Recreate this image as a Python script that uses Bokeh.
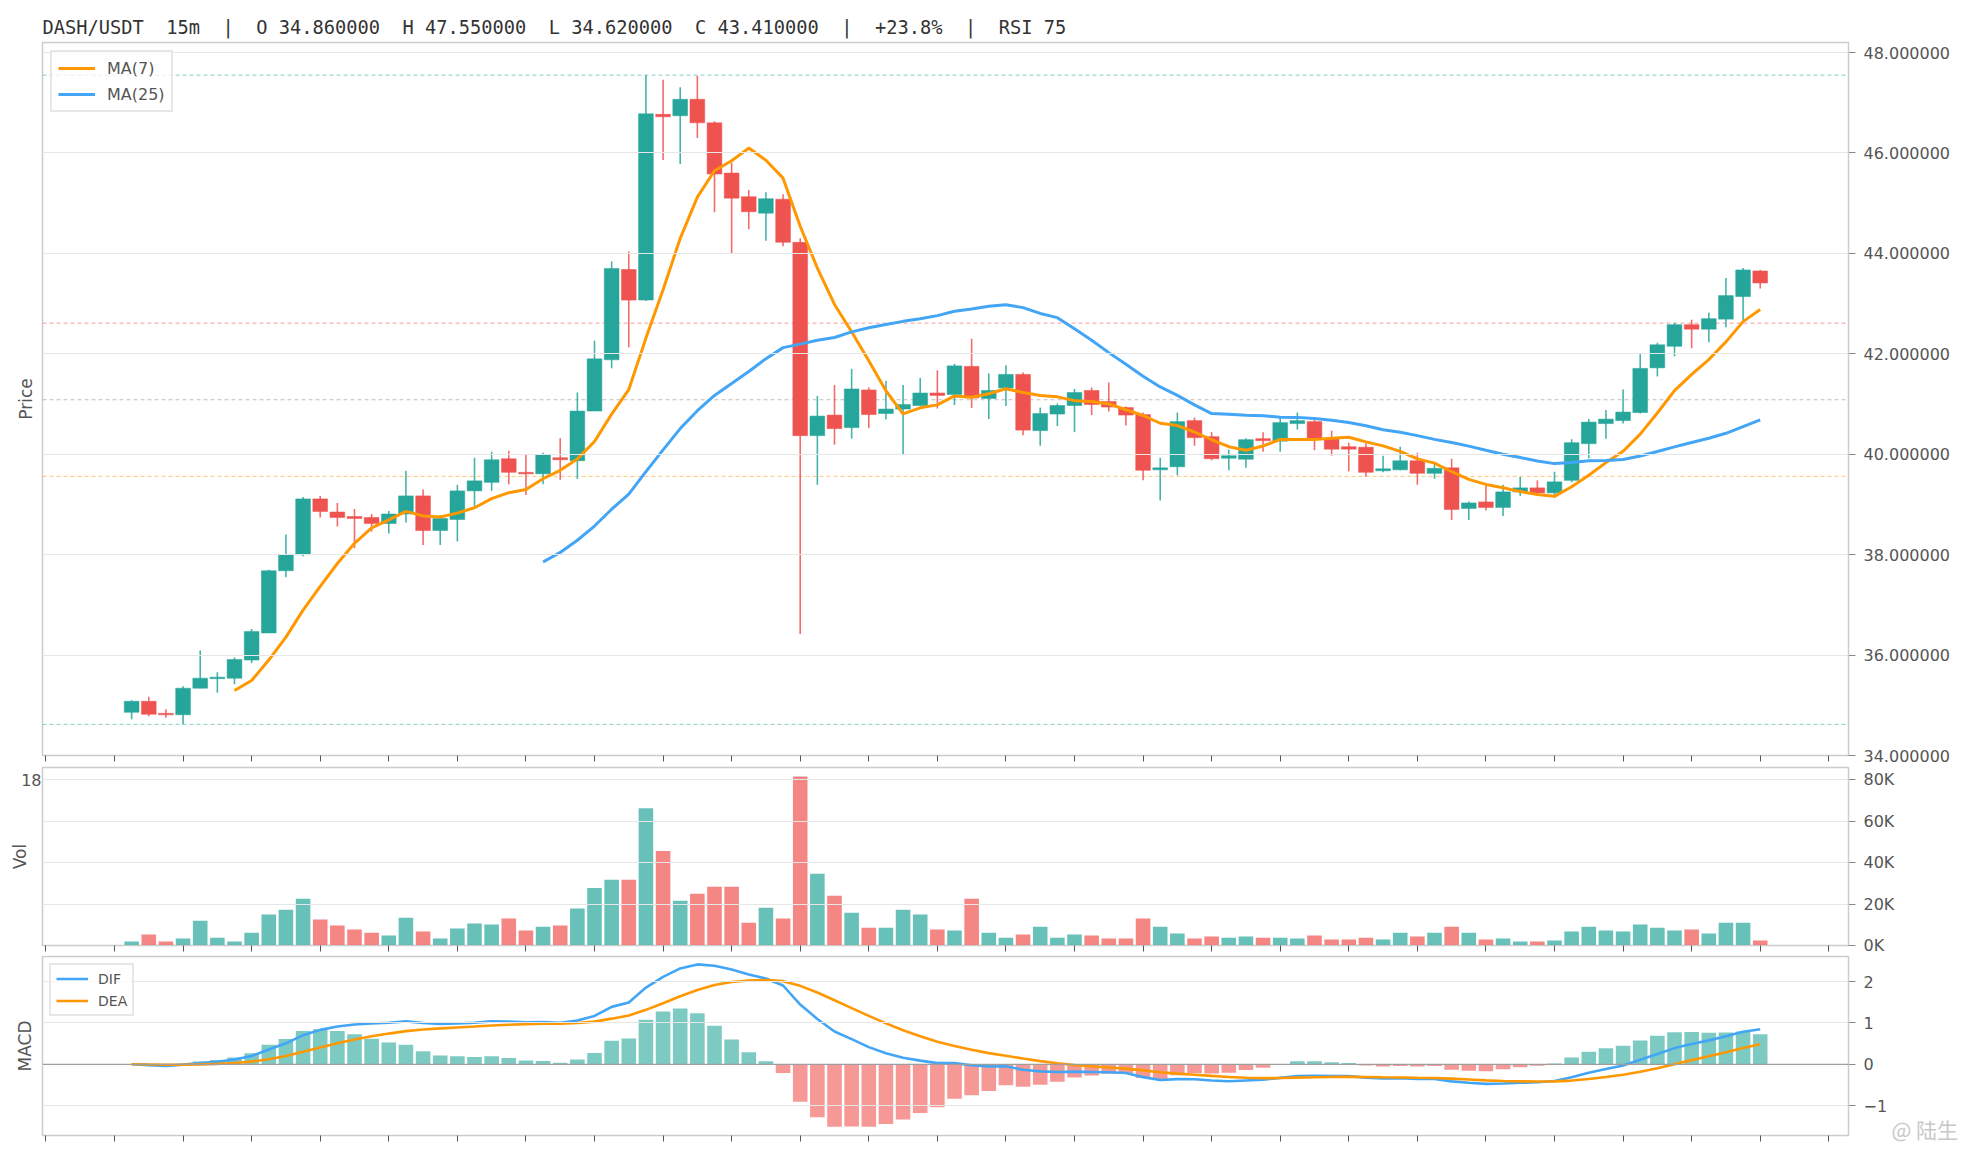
import pandas as pd
from bokeh.plotting import figure
from bokeh.layouts import column
from bokeh.models import (Range1d, LinearAxis, FixedTicker, Span, Legend, LegendItem,
                          ColumnDataSource)
from bokeh.embed import file_html
from bokeh.resources import INLINE

# ---------------- data ----------------
opens = [34.86, 35.08, 34.84, 34.81, 35.34, 35.53, 35.54, 35.90, 36.44, 37.68, 38.00, 39.11, 38.85, 38.76, 38.74,
         38.62, 38.81, 39.17, 38.48, 38.70, 39.27, 39.44, 39.91, 39.64, 39.61,
         39.93, 39.87, 40.86, 41.88, 43.68, 43.07, 46.77, 46.74, 47.07, 46.60, 45.60, 45.13, 44.80, 45.08, 44.22,
         40.37, 40.78, 40.53, 41.28, 40.81, 40.90, 40.97, 41.22, 41.19,
         41.75, 41.11, 41.32, 41.59, 40.47, 40.80, 40.97, 41.27, 41.05, 40.93, 40.79, 39.69, 39.75, 40.67, 40.35,
         39.92, 39.90, 40.31, 40.26, 40.61, 40.65, 40.31, 40.15, 40.14,
         39.67, 39.69, 39.87, 39.62, 39.73, 38.92, 39.05, 38.94, 39.25, 39.33, 39.23, 39.48, 40.21, 40.61, 40.67,
         40.83, 41.72, 42.15, 42.58, 42.49, 42.69, 43.14, 43.65]
highs = [35.10, 35.17, 34.92, 35.38, 36.09, 35.66, 35.95, 36.52, 37.70, 38.40, 39.15, 39.17, 39.03, 38.91, 38.81,
         38.87, 39.67, 39.30, 38.78, 39.39, 39.93, 40.05, 40.07, 39.99, 40.03,
         40.32, 41.23, 42.26, 43.84, 44.04, 47.55, 47.46, 47.31, 47.54, 46.63, 45.81, 45.26, 45.22, 45.18, 44.30,
         41.16, 41.38, 41.70, 41.33, 41.46, 41.38, 41.52, 41.67, 41.80,
         42.30, 41.61, 41.77, 41.63, 40.93, 41.01, 41.30, 41.33, 41.43, 40.95, 40.83, 39.93, 40.83, 40.73, 40.44,
         40.09, 40.32, 40.44, 40.75, 40.83, 40.69, 40.47, 40.23, 40.22,
         39.97, 40.15, 40.03, 39.82, 39.91, 39.06, 39.38, 39.39, 39.55, 39.48, 39.65, 40.30, 40.70, 40.88, 41.29,
         42.00, 42.22, 42.62, 42.68, 42.82, 43.51, 43.71, 43.67]
lows = [34.72, 34.78, 34.75, 34.62, 35.34, 35.25, 35.42, 35.84, 36.44, 37.55, 37.97, 38.74, 38.56, 38.13, 38.46,
        38.42, 38.64, 38.19, 38.19, 38.26, 38.97, 39.27, 39.40, 39.19, 39.40,
        39.49, 39.51, 40.86, 41.71, 42.13, 43.05, 45.86, 45.78, 46.30, 44.82, 44.00, 44.48, 44.25, 44.14, 36.42,
        39.39, 40.19, 40.31, 40.52, 40.69, 39.99, 40.97, 40.91, 40.98,
        40.92, 40.70, 40.96, 40.38, 40.17, 40.56, 40.44, 40.78, 40.85, 40.57, 39.48, 39.08, 39.58, 40.17, 39.88,
        39.68, 39.73, 40.05, 40.05, 40.49, 40.08, 39.97, 39.66, 39.55,
        39.64, 39.68, 39.39, 39.51, 38.69, 38.69, 38.88, 38.77, 39.17, 39.17, 39.13, 39.44, 39.92, 40.31, 40.61,
        40.81, 41.55, 41.95, 42.11, 42.23, 42.53, 42.66, 43.30]
closes = [35.08, 34.82, 34.81, 35.34, 35.54, 35.56, 35.91, 36.47, 37.68, 38.00, 39.11, 38.86, 38.74, 38.72, 38.62,
          38.81, 39.17, 38.48, 38.72, 39.27, 39.47, 39.89, 39.64, 39.61, 39.99,
          39.89, 40.86, 41.90, 43.70, 43.07, 46.78, 46.72, 47.07, 46.60, 45.58, 45.10, 44.83, 45.09, 44.22, 40.37,
          40.76, 40.51, 41.30, 40.79, 40.90, 40.99, 41.22, 41.17, 41.76,
          41.12, 41.27, 41.59, 40.48, 40.81, 40.97, 41.23, 40.99, 40.94, 40.78, 39.68, 39.73, 40.65, 40.33, 39.91,
          39.97, 40.29, 40.27, 40.63, 40.67, 40.31, 40.10, 40.10, 39.64,
          39.71, 39.87, 39.62, 39.72, 38.90, 39.03, 38.94, 39.25, 39.33, 39.23, 39.45, 40.23, 40.64, 40.70, 40.84,
          41.71, 42.18, 42.58, 42.49, 42.70, 43.16, 43.67, 43.41]
volumes = [1900, 5300, 1900, 3400, 12000, 3800, 1900, 6200, 14900, 17300, 22600, 12500, 9600, 7700, 6200,
           4800, 13400, 6700, 3400, 8200, 10600, 10100, 13000, 7200, 9100,
           9600, 17800, 27800, 31700, 31700, 66200, 45600, 21600, 25000, 28300, 28300, 11000, 18200, 13000, 81600,
           34600, 24000, 15800, 8600, 8600, 17300, 14900, 7700, 7200,
           22600, 6200, 3800, 5300, 9100, 3800, 5300, 4800, 3400, 3400, 13000, 9100, 5800, 3400, 4300,
           3800, 4300, 3800, 3800, 3400, 4800, 2900, 2900, 3800,
           2900, 6200, 4300, 6200, 9100, 6200, 2900, 3400, 1900, 1900, 2400, 6700, 9100, 7200, 6700,
           10100, 8600, 7200, 7700, 5800, 11000, 11000, 2400]

title_text = "DASH/USDT  15m  |  O 34.860000  H 47.550000  L 34.620000  C 43.410000  |  +23.8%  |  RSI 75"
price_ticks = [34, 36, 38, 40, 42, 44, 46, 48]
vol_ticks = [0, 20000, 40000, 60000, 80000]
vol_labels = ["0K", "20K", "40K", "60K", "80K"]
macd_ticks = [-1, 0, 1, 2]
macd_labels = ["\u22121", "0", "1", "2"]
fib_ratios = [0.0, 0.382, 0.5, 0.618, 1.0]
fib_colors = ["#26a69a", "#ef5350", "#888888", "#ff9800", "#26a69a"]
watermark = "@ 陆生"

# ---------------- derived indicators ----------------
n = len(closes)
idx = list(range(n))
c = pd.Series(closes)
ma7 = c.rolling(7).mean()
ma25 = c.rolling(25).mean()
ema12 = c.ewm(span=12, adjust=False).mean()
ema26 = c.ewm(span=26, adjust=False).mean()
dif = ema12 - ema26
dea = dif.ewm(span=9, adjust=False).mean()
hist = 2 * (dif - dea)

UP, DN = "#26a69a", "#ef5350"
col = [UP if cl >= op else DN for op, cl in zip(opens, closes)]
src = ColumnDataSource(dict(x=idx, o=opens, h=highs, l=lows, c=closes, v=volumes, col=col,
                            top=[max(a, b) for a, b in zip(opens, closes)],
                            bot=[min(a, b) for a, b in zip(opens, closes)]))

GRID = "#e6e6e6"
FRAME = "#cccccc"
TXT = "#555555"
FONT = "DejaVu Sans"
LEFT = 42
RIGHT = 110
FW = 1806

xr = Range1d(-5.2, 100.15)
x_ticks = list(range(-5, 101, 4))


def base_fig(frame_h, yr, top, bottom):
    p = figure(frame_width=FW, frame_height=frame_h, x_range=xr, y_range=yr,
               y_axis_location="right", output_backend="svg", toolbar_location=None,
               min_border_left=LEFT, min_border_right=RIGHT, min_border_top=top, min_border_bottom=bottom,
               background_fill_color="white", border_fill_color="white")
    p.outline_line_color = FRAME
    p.outline_line_width = 1.5
    p.xgrid.visible = False
    p.ygrid.grid_line_color = GRID
    p.ygrid.grid_line_width = 1
    p.ygrid.level = "overlay"
    xa = p.xaxis[0]
    xa.ticker = FixedTicker(ticks=x_ticks)
    xa.major_label_text_font_size = "0px"
    xa.major_label_text_color = None
    xa.major_label_standoff = 0
    xa.major_tick_in = 0
    xa.major_tick_out = 6
    xa.major_tick_line_color = "#555555"
    xa.minor_tick_line_color = None
    xa.axis_line_color = FRAME
    ya = p.yaxis[0]
    ya.major_tick_in = 0
    ya.major_tick_out = 7
    ya.major_tick_line_color = "#888888"
    ya.minor_tick_line_color = None
    ya.axis_line_color = FRAME
    ya.major_label_standoff = 8
    ya.major_label_text_font = FONT
    ya.major_label_text_font_size = "16px"
    ya.major_label_text_color = TXT
    return p


def left_label(p, text, standoff, ticks=None, overrides=None):
    ax = LinearAxis(ticker=FixedTicker(ticks=ticks or []), axis_label=text,
                    axis_label_text_font=FONT, axis_label_text_font_size="17px",
                    axis_label_text_font_style="normal", axis_label_text_color=TXT,
                    axis_label_standoff=standoff, major_tick_in=0, major_tick_out=0,
                    minor_tick_line_color=None, axis_line_color=None,
                    major_label_standoff=1, major_label_text_font=FONT,
                    major_label_text_font_size="16px", major_label_text_color=TXT)
    if overrides:
        ax.major_label_overrides = overrides
    p.add_layout(ax, "left")


# ---------------- price panel ----------------
p1 = base_fig(713, Range1d(34, 48.2), 42, 11)
p1.title.text = title_text.replace("  ", "\u00a0\u00a0")
p1.title.text_font = "DejaVu Sans Mono"
p1.title.text_font_size = "18.7px"
p1.title.text_font_style = "normal"
p1.title.text_color = "#333333"
p1.title.align = "left"
p1.title.standoff = 9
p1.yaxis[0].ticker = FixedTicker(ticks=price_ticks)
p1.yaxis[0].major_label_overrides = {t: "%.6f" % t for t in price_ticks}
p1.ygrid.ticker = FixedTicker(ticks=price_ticks)
left_label(p1, "Price", 7)

hi, lo = max(highs), min(lows)
for r, fc in zip(fib_ratios, fib_colors):
    p1.add_layout(Span(location=hi - r * (hi - lo), dimension="width", line_color=fc,
                       line_alpha=0.55, line_width=1, line_dash="4 3", level="underlay"))

p1.segment(x0="x", y0="l", x1="x", y1="h", source=src, line_color="col", line_width=1.6, line_alpha=0.85)
p1.vbar(x="x", top="top", bottom="bot", width=0.86, source=src, fill_color="col", line_color="col",
        line_width=0.5)

ma7_x = [i for i in idx if pd.notna(ma7[i])]
ma25_x = [i for i in idx if pd.notna(ma25[i])]
r7 = p1.line(ma7_x, [ma7[i] for i in ma7_x], line_color="#ff9800", line_width=3)
r25 = p1.line(ma25_x, [ma25[i] for i in ma25_x], line_color="#42a5f5", line_width=3)
leg1 = Legend(items=[LegendItem(label="MA(7)", renderers=[r7]), LegendItem(label="MA(25)", renderers=[r25])],
              location="top_left", margin=8, padding=6, spacing=6, glyph_width=37, glyph_height=20,
              label_standoff=12, label_text_font=FONT, label_text_font_size="16px",
              label_text_color=TXT, border_line_color="#d0d0d0", border_line_width=2,
              background_fill_alpha=0.75)
p1.add_layout(leg1)

# ---------------- volume panel ----------------
p2 = base_fig(178, Range1d(0, 85900), 1, 10)
p2.yaxis[0].ticker = FixedTicker(ticks=vol_ticks)
p2.yaxis[0].major_label_overrides = dict(zip(vol_ticks, vol_labels))
p2.ygrid.ticker = FixedTicker(ticks=vol_ticks)
left_label(p2, "Vol", -12, ticks=[80000], overrides={80000: "18"})
p2.vbar(x="x", top="v", bottom=0, width=0.85, source=src, fill_color="col", line_color=None, fill_alpha=0.7)

# ---------------- MACD panel ----------------
p3 = base_fig(179, Range1d(-1.72, 2.605), 1, 10)
p3.yaxis[0].ticker = FixedTicker(ticks=macd_ticks)
p3.yaxis[0].major_label_overrides = dict(zip(macd_ticks, macd_labels))
p3.ygrid.ticker = FixedTicker(ticks=macd_ticks)
left_label(p3, "MACD", 8)
hsrc = ColumnDataSource(dict(x=idx, h=list(hist), col=[UP if v >= 0 else DN for v in hist]))
p3.vbar(x="x", top="h", bottom=0, width=0.85, source=hsrc, fill_color="col", line_color=None, fill_alpha=0.6)
p3.add_layout(Span(location=0, dimension="width", line_color="#9e9e9e", line_width=1.3, level="overlay"))
rd = p3.line(idx, list(dif), line_color="#42a5f5", line_width=2.6)
re = p3.line(idx, list(dea), line_color="#ff9800", line_width=2.6)
leg3 = Legend(items=[LegendItem(label="DIF", renderers=[rd]), LegendItem(label="DEA", renderers=[re])],
              location="top_left", margin=7, padding=5, spacing=5, glyph_width=32, glyph_height=17,
              label_standoff=10, label_text_font=FONT, label_text_font_size="14px",
              label_text_color=TXT, border_line_color="#d0d0d0", border_line_width=2,
              background_fill_alpha=0.75)
p3.add_layout(leg3)

# watermark at the lower right, drawn as the only label of a second right-hand axis
wm_axis = LinearAxis(ticker=FixedTicker(ticks=[-1.64]), major_label_overrides={-1.64: watermark},
                     major_tick_in=0, major_tick_out=0, minor_tick_line_color=None, axis_line_color=None,
                     major_label_standoff=1, major_label_text_font="Noto Sans CJK SC",
                     major_label_text_font_size="21px", major_label_text_color="#c8c8c8")
p3.add_layout(wm_axis, "right")

layout = column(p1, p2, p3, spacing=0)
open("out.html", "w").write(file_html(layout, INLINE))
